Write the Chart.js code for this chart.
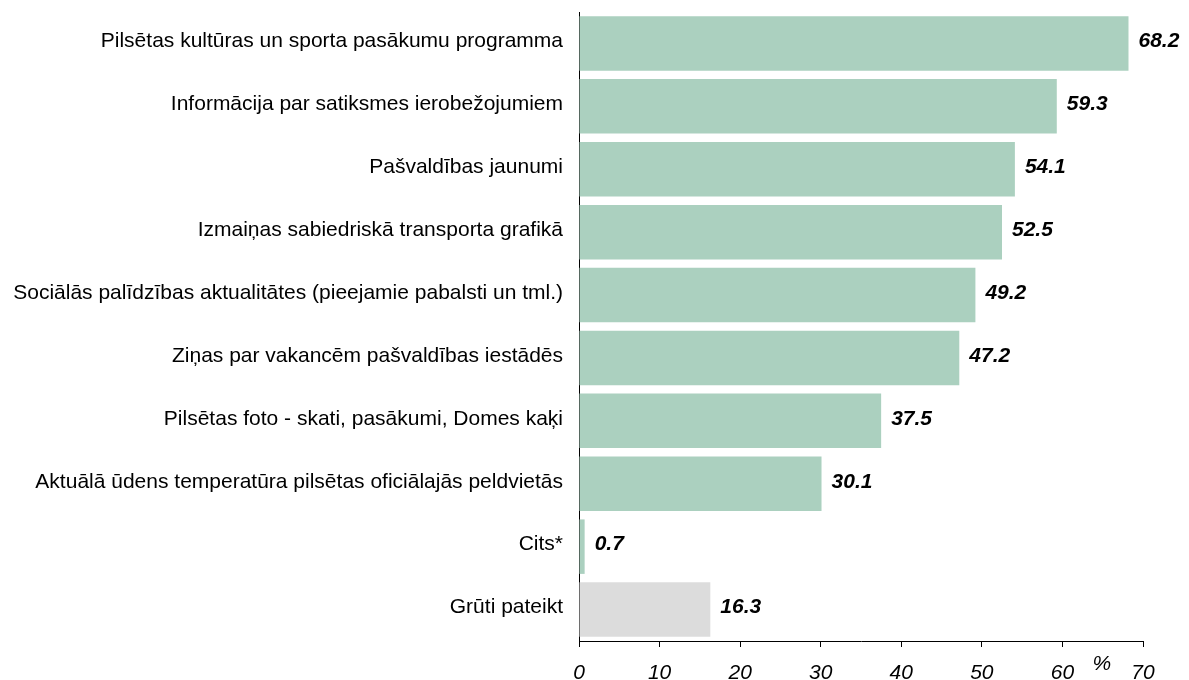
<!DOCTYPE html>
<html><head><meta charset="utf-8">
<script src="https://cdn.jsdelivr.net/npm/chart.js@4"></script>
<style>html,body{margin:0;padding:0;background:#fff}#wrap{width:1189px;height:680px}</style>
</head><body><div id="wrap"><canvas id="c" width="1189" height="680"></canvas></div>
<script>
const categories = [
  "Pilsētas kultūras un sporta pasākumu programma",
  "Informācija par satiksmes ierobežojumiem",
  "Pašvaldības jaunumi",
  "Izmaiņas sabiedriskā transporta grafikā",
  "Sociālās palīdzības aktualitātes (pieejamie pabalsti un tml.)",
  "Ziņas par vakancēm pašvaldības iestādēs",
  "Pilsētas foto - skati, pasākumi, Domes kaķi",
  "Aktuālā ūdens temperatūra pilsētas oficiālajās peldvietās",
  "Cits*",
  "Grūti pateikt"
];
const values = [68.2, 59.3, 54.1, 52.5, 49.2, 47.2, 37.5, 30.1, 0.7, 16.3];
const barColors = ["#abd0bf","#abd0bf","#abd0bf","#abd0bf","#abd0bf","#abd0bf","#abd0bf","#abd0bf","#abd0bf","#dcdcdc"];
const xTicks = [0,10,20,30,40,50,60,70];
const unitLabel = "%";

const FONT = "'Liberation Sans', Arial, sans-serif";

const labelsPlugin = {
  id: 'valueLabels',
  afterDatasetsDraw(chart) {
    const ctx = chart.ctx;
    const meta = chart.getDatasetMeta(0);
    ctx.save();
    ctx.font = "italic bold 21px " + FONT;
    ctx.fillStyle = "#000";
    ctx.textAlign = "left";
    ctx.textBaseline = "middle";
    meta.data.forEach((bar, i) => {
      ctx.fillText(values[i].toFixed(1), bar.x + 10, bar.y - 2);
    });
    const xs = chart.scales.x;
    ctx.font = "italic 21px " + FONT;
    ctx.textAlign = "center";
    ctx.fillText(unitLabel, xs.getPixelForValue(64.9), xs.top + 23);
    ctx.restore();
  }
};

new Chart(document.getElementById('c'), {
  type: 'bar',
  data: {
    labels: categories,
    datasets: [{
      data: values,
      backgroundColor: barColors,
      borderWidth: 0,
      categoryPercentage: 0.866,
      barPercentage: 1.0
    }]
  },
  options: {
    indexAxis: 'y',
    responsive: false,
    animation: false,
    devicePixelRatio: 1,
    layout: { padding: { top: 12, right: 46, left: 0, bottom: 0 } },
    plugins: { legend: { display: false }, tooltip: { enabled: false } },
    scales: {
      x: {
        min: 0, max: 70,
        afterBuildTicks: s => { s.ticks = xTicks.map(v => ({ value: v })); },
        afterFit: s => { s.height = 39; s.paddingLeft = 0; s.paddingRight = 0; },
        grid: { drawOnChartArea: false, drawTicks: true, tickLength: 6, color: '#000', lineWidth: 1 },
        border: { color: '#000', width: 1 },
        ticks: { color: '#000', font: { family: FONT, size: 21, style: 'italic' }, padding: 14, maxRotation: 0 }
      },
      y: {
        afterFit: s => { s.width = 579; s.paddingTop = 0; s.paddingBottom = 0; },
        grid: { display: false, drawTicks: false },
        border: { color: '#000', width: 1 },
        ticks: { color: '#000', font: { family: FONT, size: 21 }, padding: 16, labelOffset: -2 }
      }
    }
  },
  plugins: [labelsPlugin]
});
</script>
</body></html>
